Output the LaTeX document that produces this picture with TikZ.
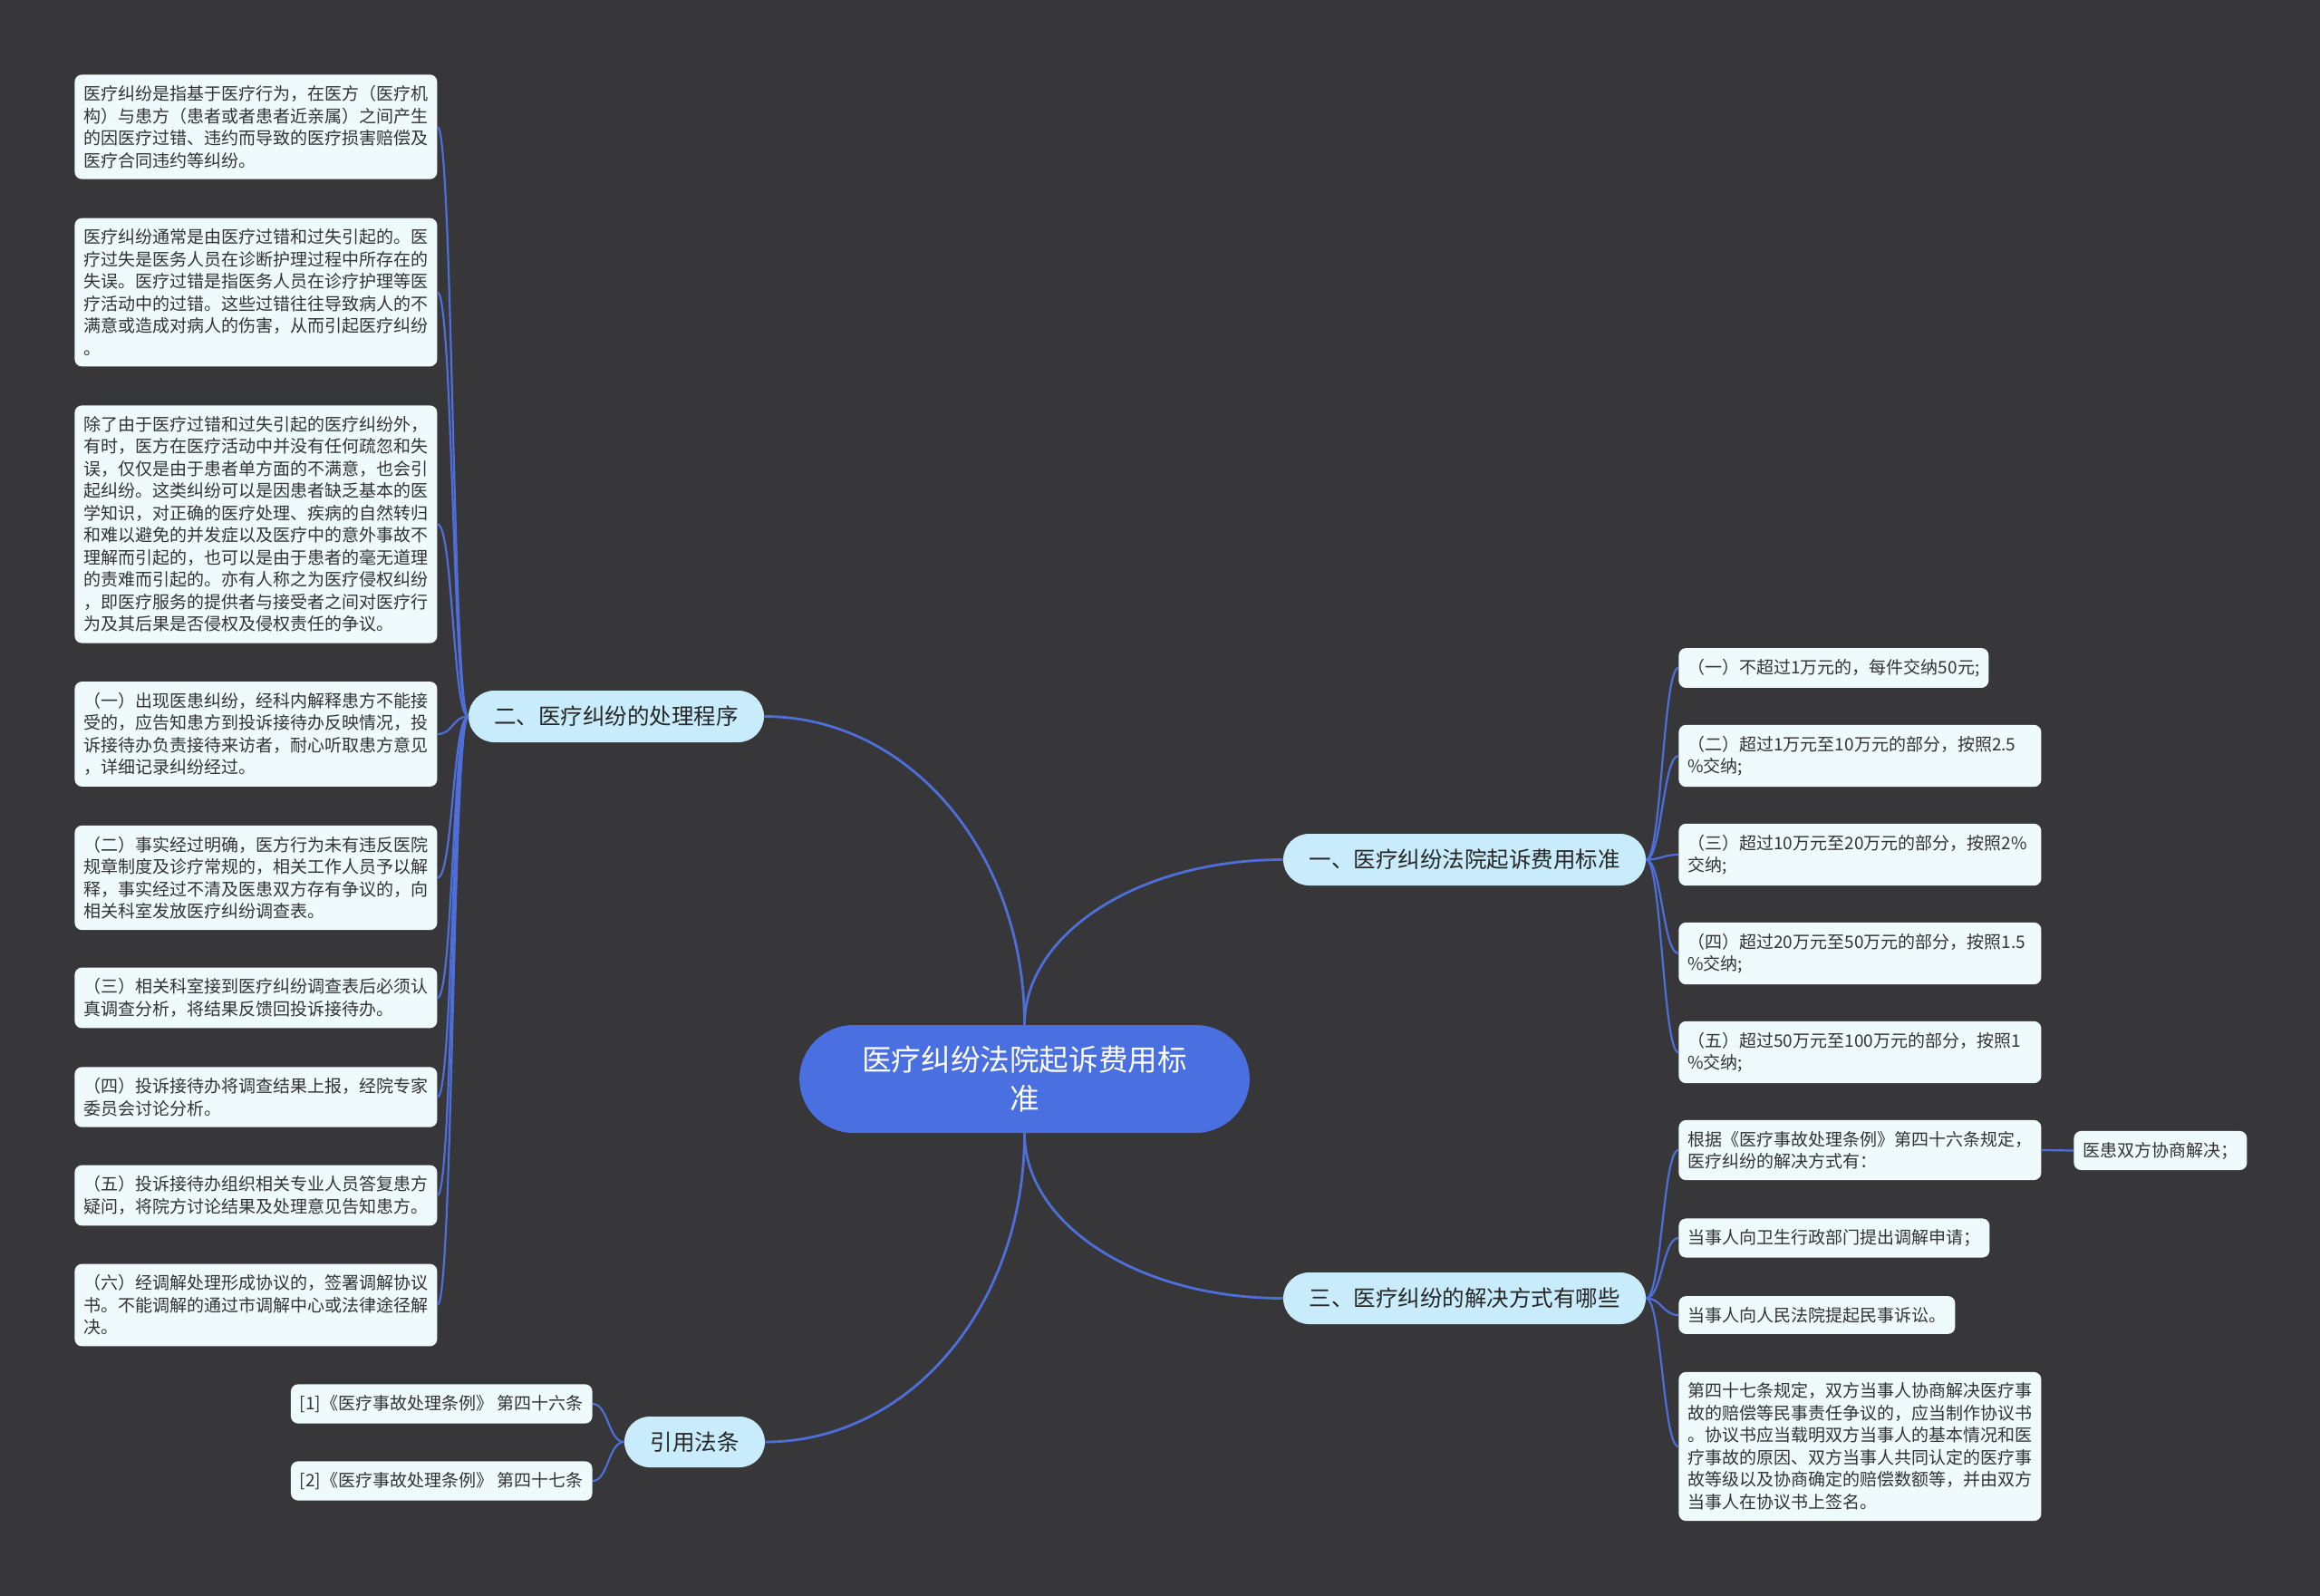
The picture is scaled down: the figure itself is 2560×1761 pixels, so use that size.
\documentclass[tikz,border=0pt]{standalone}
\usepackage{fontspec}
\setmainfont{Noto Sans CJK SC}
\usetikzlibrary{shapes.misc}
\definecolor{bg}{HTML}{373638}
\definecolor{leaffill}{HTML}{EFFAFD}
\definecolor{leaftext}{HTML}{333333}
\definecolor{topicfill}{HTML}{C8ECFC}
\definecolor{rootfill}{HTML}{4A6FE0}
\definecolor{linec}{HTML}{4E6FDA}
\begin{document}
\begin{tikzpicture}[x=0.5pt,y=-0.5pt,
  leaf/.style={fill=leaffill, rounded corners=4pt, inner xsep=5pt, inner ysep=6pt,
    text=leaftext, font=\fontsize{9.5}{12.25}\selectfont, align=left, anchor=west},
  wleaf/.style={leaf, text width=190pt},
  topic/.style={shape=rounded rectangle, fill=topicfill, minimum height=28.5pt,
    inner xsep=0pt, text=black!85, font=\fontsize{12.25}{14}\selectfont},
  conn/.style={draw=linec, line width=1.4pt},
  sconn/.style={draw=linec, line width=1.1pt},
]
\fill[bg] (0,0) rectangle (2560,1761);
\useasboundingbox (0,0) rectangle (2560,1761);

% root
\node[shape=rounded rectangle, fill=rootfill, minimum width=255pt, minimum height=59.5pt,
  text=white, align=center, font=\fontsize{16.3}{21.5}\selectfont] (root) at (1130.5,1190.5)
  {医疗纠纷法院起诉费用标\\准};

% topics
\node[topic, minimum width=163pt] (b2) at (680,790.5) {二、医疗纠纷的处理程序};
\node[topic, minimum width=200pt] (b1) at (1616,948.5) {一、医疗纠纷法院起诉费用标准};
\node[topic, minimum width=200pt] (b3) at (1616,1432.5) {三、医疗纠纷的解决方式有哪些};
\node[topic, minimum width=77.5pt, minimum height=28pt] (b4) at (766.5,1591) {引用法条};

% root connectors
\draw[conn] (root.north) .. controls +(0,-190) and +(160,0) .. (b2.east);
\draw[conn] (root.north) .. controls +(0,-100) and +(-160,0) .. (b1.west);
\draw[conn] (root.south) .. controls +(0,100) and +(-160,0) .. (b3.west);
\draw[conn] (root.south) .. controls +(0,190) and +(160,0) .. (b4.east);

% left leaves
\node[wleaf] (L1) at (82,140) {医疗纠纷是指基于医疗行为，在医方（医疗机\\构）与患方（患者或者患者近亲属）之间产生\\的因医疗过错、违约而导致的医疗损害赔偿及\\医疗合同违约等纠纷。};
\node[wleaf] (L2) at (82,322.5) {医疗纠纷通常是由医疗过错和过失引起的。医\\疗过失是医务人员在诊断护理过程中所存在的\\失误。医疗过错是指医务人员在诊疗护理等医\\疗活动中的过错。这些过错往往导致病人的不\\满意或造成对病人的伤害，从而引起医疗纠纷\\。};
\node[wleaf] (L3) at (82,578.5) {除了由于医疗过错和过失引起的医疗纠纷外，\\有时，医方在医疗活动中并没有任何疏忽和失\\误，仅仅是由于患者单方面的不满意，也会引\\起纠纷。这类纠纷可以是因患者缺乏基本的医\\学知识，对正确的医疗处理、疾病的自然转归\\和难以避免的并发症以及医疗中的意外事故不\\理解而引起的，也可以是由于患者的毫无道理\\的责难而引起的。亦有人称之为医疗侵权纠纷\\，即医疗服务的提供者与接受者之间对医疗行\\为及其后果是否侵权及侵权责任的争议。};
\node[wleaf] (L4) at (82,810) {（一）出现医患纠纷，经科内解释患方不能接\\受的，应告知患方到投诉接待办反映情况，投\\诉接待办负责接待来访者，耐心听取患方意见\\，详细记录纠纷经过。};
\node[wleaf] (L5) at (82,968.5) {（二）事实经过明确，医方行为未有违反医院\\规章制度及诊疗常规的，相关工作人员予以解\\释，事实经过不清及医患双方存有争议的，向\\相关科室发放医疗纠纷调查表。};
\node[wleaf] (L6) at (82,1101) {（三）相关科室接到医疗纠纷调查表后必须认\\真调查分析，将结果反馈回投诉接待办。};
\node[wleaf] (L7) at (82,1210.5) {（四）投诉接待办将调查结果上报，经院专家\\委员会讨论分析。};
\node[wleaf] (L8) at (82,1319) {（五）投诉接待办组织相关专业人员答复患方\\疑问，将院方讨论结果及处理意见告知患方。};
\node[wleaf] (L9) at (82,1440) {（六）经调解处理形成协议的，签署调解协议\\书。不能调解的通过市调解中心或法律途径解\\决。};

\foreach \n in {L1,L2,L3,L4,L5,L6,L7,L8,L9}
  \draw[sconn] (b2.west) .. controls +(-17,0) and +(17,0) .. (\n.east);

% right leaves (topic 1)
\node[leaf] (R1) at (1852,737) {（一）不超过1万元的，每件交纳50元;};
\node[wleaf] (R2) at (1852,834) {（二）超过1万元至10万元的部分，按照2.5\\\%交纳;};
\node[wleaf] (R3) at (1852,943) {（三）超过10万元至20万元的部分，按照2\%\\交纳;};
\node[wleaf] (R4) at (1852,1052) {（四）超过20万元至50万元的部分，按照1.5\\\%交纳;};
\node[wleaf] (R5) at (1852,1161) {（五）超过50万元至100万元的部分，按照1\\\%交纳;};
\foreach \n in {R1,R2,R3,R4,R5}
  \draw[sconn] (b1.east) .. controls +(17,0) and +(-17,0) .. (\n.west);

% right leaves (topic 3)
\node[wleaf] (S1) at (1852,1269) {根据《医疗事故处理条例》第四十六条规定，\\医疗纠纷的解决方式有：};
\node[leaf] (S1c) at (2288,1269.5) {医患双方协商解决；};
\node[leaf] (S2) at (1852,1366) {当事人向卫生行政部门提出调解申请；};
\node[leaf] (S3) at (1852,1451) {当事人向人民法院提起民事诉讼。};
\node[wleaf] (S4) at (1852,1596) {第四十七条规定，双方当事人协商解决医疗事\\故的赔偿等民事责任争议的，应当制作协议书\\。协议书应当载明双方当事人的基本情况和医\\疗事故的原因、双方当事人共同认定的医疗事\\故等级以及协商确定的赔偿数额等，并由双方\\当事人在协议书上签名。};
\foreach \n in {S1,S2,S3,S4}
  \draw[sconn] (b3.east) .. controls +(17,0) and +(-17,0) .. (\n.west);
\draw[sconn] (S1.east) -- (S1c.west);

% citations
\node[leaf, anchor=east] (C1) at (654,1549) {[1]《医疗事故处理条例》 第四十六条};
\node[leaf, anchor=east] (C2) at (654,1634) {[2]《医疗事故处理条例》 第四十七条};
\foreach \n in {C1,C2}
  \draw[sconn] (b4.west) .. controls +(-17,0) and +(17,0) .. (\n.east);
\end{tikzpicture}
\end{document}
